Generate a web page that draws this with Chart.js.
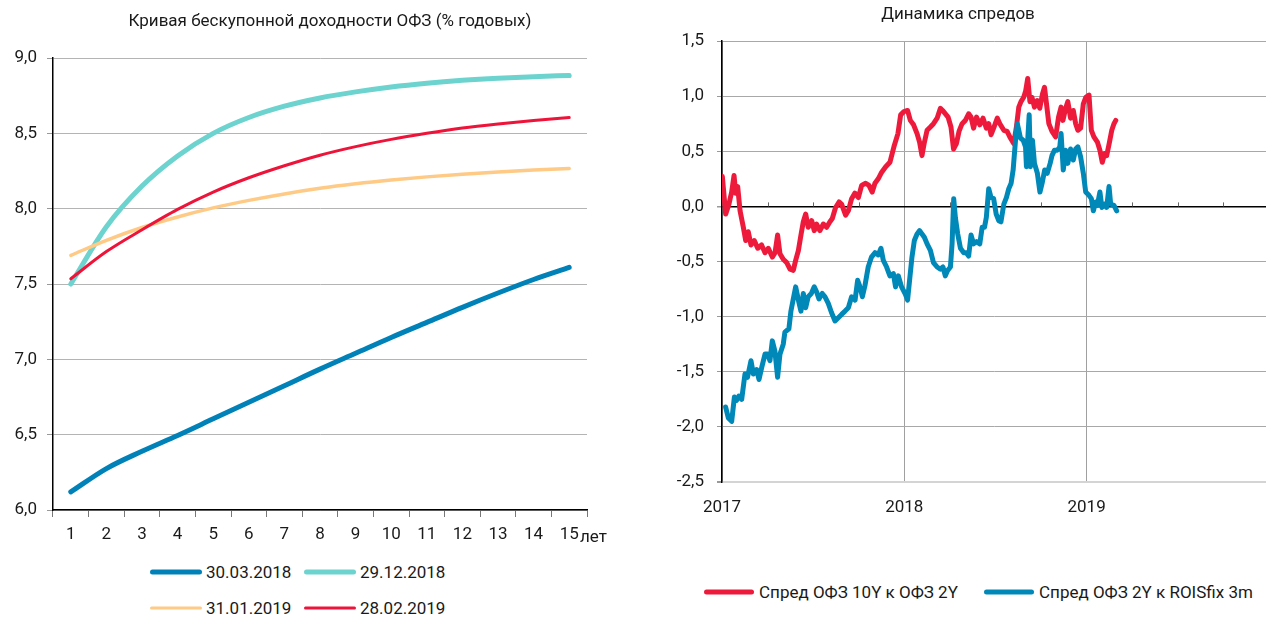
<!DOCTYPE html>
<html lang="ru">
<head>
  <meta charset="UTF-8" />
  <title>Кривая ОФЗ и динамика спредов</title>
  <script src="https://cdn.jsdelivr.net/npm/chart.js"></script>
  <style>
    body { margin: 0; background: #fff; font-family: Roboto, sans-serif; color: #1a1a1a; }
    .wrap { position: relative; width: 1267px; height: 619px; overflow: hidden; }
    canvas { position: absolute; top: 0; }
    .title { position: absolute; font-size: 17px; white-space: nowrap; transform: translate(-50%, -50%); }
    .lg { position: absolute; font-size: 17px; white-space: nowrap; transform: translateY(-50%); }
    .ln { position: absolute; border-radius: 3px; transform: translateY(-50%); }
  </style>
</head>
<body>
  <div class="wrap">
    <canvas id="curve" width="620" height="560" style="left:0"></canvas>
    <canvas id="spread" width="627" height="540" style="left:640px"></canvas>

    <div class="title" style="left:330px; top:20px">Кривая бескупонной доходности ОФЗ (% годовых)</div>
    <div class="title" style="left:958px; top:13px">Динамика спредов</div>
    <div class="lg" style="left:580px; top:536px">лет</div>

    <!-- легенда слева -->
    <div class="ln" style="left:150px; top:572px; width:52px; height:5px; background:#0082b8"></div>
    <div class="lg" style="left:206px; top:572px">30.03.2018</div>
    <div class="ln" style="left:304px; top:572px; width:52px; height:5px; background:#6dd3cf"></div>
    <div class="lg" style="left:360px; top:572px">29.12.2018</div>
    <div class="ln" style="left:150px; top:608px; width:52px; height:3px; background:#ffca85"></div>
    <div class="lg" style="left:206px; top:608px">31.01.2019</div>
    <div class="ln" style="left:304px; top:608px; width:52px; height:3px; background:#ee1439"></div>
    <div class="lg" style="left:360px; top:608px">28.02.2019</div>

    <!-- легенда справа -->
    <div class="ln" style="left:704px; top:592px; width:50px; height:5px; background:#ee1a3c"></div>
    <div class="lg" style="left:759px; top:592px">Спред ОФЗ 10Y к ОФЗ 2Y</div>
    <div class="ln" style="left:984px; top:592px; width:50px; height:5px; background:#0088b9"></div>
    <div class="lg" style="left:1039px; top:592px">Спред ОФЗ 2Y к ROISfix 3m</div>
  </div>

  <script>
    // кривая ОФЗ, сроки в годах
    const terms = [1, 2, 3, 4, 5, 6, 7, 8, 9, 10, 11, 12, 13, 14, 15];
    const y30032018 = [6.12, 6.275, 6.39, 6.495, 6.605, 6.715, 6.825, 6.935, 7.04, 7.145, 7.245, 7.345, 7.44, 7.53, 7.61];
    const y29122018 = [7.50, 7.88, 8.15, 8.35, 8.50, 8.605, 8.68, 8.735, 8.775, 8.808, 8.833, 8.852, 8.866, 8.876, 8.884];
    const y31012019 = [7.69, 7.79, 7.875, 7.945, 8.005, 8.055, 8.098, 8.135, 8.165, 8.19, 8.211, 8.229, 8.244, 8.256, 8.266];
    const y28022019 = [7.535, 7.715, 7.86, 7.995, 8.11, 8.205, 8.285, 8.355, 8.412, 8.46, 8.50, 8.535, 8.562, 8.585, 8.605];
    const curveTicks = [6.0, 6.5, 7.0, 7.5, 8.0, 8.5, 9.0];

    // спреды: время в годах от начала 2017
    const redT = [0.002, 0.02, 0.038, 0.053, 0.066, 0.075, 0.086, 0.099, 0.117, 0.130, 0.144, 0.159, 0.177, 0.196, 0.217, 0.236,
      0.254, 0.276, 0.291, 0.305, 0.318, 0.336, 0.355, 0.373, 0.391, 0.404, 0.419, 0.433, 0.446, 0.459, 0.473, 0.492,
      0.506, 0.519, 0.537, 0.556, 0.574, 0.592, 0.605, 0.623, 0.642, 0.656, 0.678, 0.693, 0.711, 0.729, 0.748, 0.766,
      0.788, 0.806, 0.824, 0.839, 0.857, 0.876, 0.898, 0.921, 0.943, 0.965, 0.98, 0.998, 1.018, 1.033, 1.051, 1.07,
      1.084, 1.097, 1.11, 1.125, 1.143, 1.16, 1.18, 1.198, 1.21, 1.23, 1.24, 1.256, 1.27, 1.286, 1.30, 1.317, 1.335,
      1.353, 1.366, 1.38, 1.396, 1.414, 1.432, 1.45, 1.463, 1.476, 1.49, 1.51, 1.524, 1.546, 1.564, 1.582, 1.60, 1.615,
      1.628, 1.64, 1.655, 1.666, 1.677, 1.689, 1.70, 1.714, 1.729, 1.743, 1.758, 1.769, 1.78, 1.793, 1.81, 1.83, 1.846,
      1.86, 1.87, 1.885, 1.897, 1.912, 1.927, 1.94, 1.952, 1.967, 1.982, 1.996, 2.013, 2.026, 2.04, 2.06, 2.073, 2.086,
      2.099, 2.11, 2.125, 2.138, 2.15, 2.16];
    const redV = [0.27, -0.07, 0.02, 0.13, 0.28, 0.12, 0.18, -0.04, -0.19, -0.31, -0.23, -0.35, -0.31, -0.38, -0.35, -0.42,
      -0.38, -0.46, -0.42, -0.26, -0.43, -0.48, -0.51, -0.57, -0.58, -0.49, -0.40, -0.26, -0.14, -0.07, -0.19, -0.13,
      -0.22, -0.16, -0.22, -0.16, -0.19, -0.14, -0.11, -0.01, 0.04, 0.02, -0.08, -0.04, 0.07, 0.12, 0.08, 0.19,
      0.21, 0.19, 0.13, 0.21, 0.25, 0.31, 0.36, 0.40, 0.54, 0.66, 0.83, 0.86, 0.87, 0.78, 0.74, 0.66,
      0.58, 0.46, 0.58, 0.69, 0.72, 0.75, 0.80, 0.89, 0.87, 0.83, 0.81, 0.72, 0.52, 0.57, 0.68, 0.75, 0.78,
      0.84, 0.81, 0.71, 0.81, 0.74, 0.80, 0.71, 0.75, 0.65, 0.71, 0.80, 0.75, 0.69, 0.68, 0.62, 0.57, 0.72,
      0.90, 0.95, 0.99, 1.05, 1.16, 0.95, 0.99, 0.90, 0.96, 0.89, 1.02, 1.08, 0.93, 0.75, 0.68, 0.63, 0.81,
      0.90, 0.78, 0.89, 0.95, 0.80, 0.87, 0.75, 0.69, 0.71, 0.93, 0.99, 1.01, 0.69, 0.63, 0.58, 0.51, 0.40,
      0.48, 0.46, 0.58, 0.69, 0.75, 0.78];
    const blueT = [0.02, 0.035, 0.053, 0.068, 0.08, 0.093, 0.108, 0.126, 0.14, 0.159, 0.172, 0.19, 0.203, 0.218, 0.236, 0.25,
      0.263, 0.276, 0.29, 0.305, 0.318, 0.336, 0.345, 0.367, 0.378, 0.39, 0.404, 0.419, 0.433, 0.446, 0.459, 0.473,
      0.49, 0.506, 0.52, 0.532, 0.55, 0.565, 0.583, 0.60, 0.62, 0.638, 0.656, 0.675, 0.693, 0.711, 0.73, 0.744,
      0.757, 0.77, 0.784, 0.802, 0.82, 0.839, 0.857, 0.872, 0.885, 0.903, 0.921, 0.94, 0.952, 0.967, 0.985, 1.004,
      1.018, 1.029, 1.042, 1.055, 1.07, 1.084, 1.097, 1.11, 1.125, 1.143, 1.16, 1.18, 1.198, 1.212, 1.225, 1.238,
      1.253, 1.262, 1.271, 1.28, 1.293, 1.308, 1.326, 1.34, 1.353, 1.366, 1.38, 1.396, 1.414, 1.427, 1.44, 1.45,
      1.463, 1.476, 1.49, 1.504, 1.518, 1.53, 1.546, 1.56, 1.573, 1.586, 1.597, 1.61, 1.62, 1.628, 1.637, 1.652,
      1.665, 1.67, 1.678, 1.685, 1.692, 1.703, 1.714, 1.73, 1.744, 1.756, 1.77, 1.784, 1.80, 1.81, 1.824, 1.84,
      1.853, 1.86, 1.872, 1.885, 1.897, 1.912, 1.927, 1.94, 1.952, 1.967, 1.982, 1.995, 2.013, 2.026, 2.037, 2.05,
      2.059, 2.073, 2.084, 2.099, 2.11, 2.123, 2.132, 2.15, 2.165];
    const blueV = [-1.82, -1.92, -1.95, -1.73, -1.76, -1.72, -1.75, -1.52, -1.55, -1.40, -1.52, -1.48, -1.57, -1.46, -1.34, -1.34,
      -1.40, -1.22, -1.31, -1.55, -1.34, -1.25, -1.14, -1.11, -0.95, -0.85, -0.73, -0.85, -0.95, -0.79, -0.92, -0.82,
      -0.79, -0.73, -0.78, -0.84, -0.79, -0.82, -0.88, -0.96, -1.04, -1.01, -0.98, -0.95, -0.92, -0.82, -0.85, -0.67,
      -0.73, -0.82, -0.72, -0.55, -0.46, -0.42, -0.44, -0.38, -0.49, -0.55, -0.63, -0.61, -0.73, -0.63, -0.73, -0.79,
      -0.85, -0.67, -0.46, -0.31, -0.25, -0.22, -0.25, -0.28, -0.34, -0.40, -0.51, -0.55, -0.57, -0.55, -0.63, -0.58,
      -0.55, -0.34, 0.07, -0.10, -0.25, -0.38, -0.42, -0.42, -0.45, -0.26, -0.34, -0.32, -0.34, -0.19, -0.19, -0.10,
      0.16, 0.08, 0.07, -0.07, -0.13, -0.14, 0.02, 0.08, 0.16, 0.21, 0.33, 0.60, 0.75, 0.69, 0.62, 0.60,
      0.54, 0.36, 0.63, 0.83, 0.36, 0.60, 0.39, 0.30, 0.13, 0.21, 0.33, 0.30, 0.39, 0.46, 0.51, 0.51,
      0.54, 0.66, 0.33, 0.51, 0.39, 0.52, 0.42, 0.52, 0.54, 0.45, 0.30, 0.13, 0.10, 0.07, -0.04, 0.04,
      0.01, 0.13, -0.01, 0.02, -0.01, 0.18, 0.02, 0.01, -0.04];
    const startYear = 2017;
    const yearTicks = [2017, 2018, 2019];
    const quarterTicks = [2017.25, 2017.5, 2017.75, 2018.25, 2018.5, 2018.75, 2019.25, 2019.5, 2019.75];
    const spreadTicks = [-2.5, -2.0, -1.5, -1.0, -0.5, 0.0, 0.5, 1.0, 1.5];

    Chart.defaults.font.family = 'Roboto, sans-serif';
    Chart.defaults.font.size = 17;
    Chart.defaults.color = '#1a1a1a';

    const comma = v => v.toFixed(1).replace('.', ',');

    function line(label, data, color, width) {
      return {
        label: label, data: data, borderColor: color, backgroundColor: color,
        borderWidth: width, pointRadius: 0, fill: false,
        cubicInterpolationMode: 'monotone',
        borderCapStyle: 'round', borderJoinStyle: 'round'
      };
    }

    new Chart(document.getElementById('curve'), {
      type: 'line',
      data: {
        labels: terms,
        datasets: [
          line('28.02.2019', y28022019, '#ee1439', 3),
          line('31.01.2019', y31012019, '#ffca85', 3.5),
          line('29.12.2018', y29122018, '#6dd3cf', 5),
          line('30.03.2018', y30032018, '#0082b8', 5)
        ]
      },
      options: {
        responsive: false,
        animation: false,
        layout: { padding: { top: 58, right: 33, left: 0, bottom: 0 } },
        plugins: { legend: { display: false }, tooltip: { enabled: false } },
        scales: {
          x: {
            offset: true,
            grid: { drawOnChartArea: false, offset: true, tickLength: 7, tickColor: '#777' },
            border: { color: '#000', width: 1.5 },
            ticks: { padding: 8, maxRotation: 0 },
            afterFit: s => { s.height = 50; }
          },
          y: {
            min: 6, max: 9,
            afterBuildTicks: s => { s.ticks = curveTicks.map(v => ({ value: v })); },
            grid: { color: '#b4b4b4', tickLength: 6, tickColor: '#999' },
            border: { color: '#000', width: 1.5 },
            ticks: { padding: 10, callback: v => comma(v) },
            afterFit: s => { s.width = 53; }
          }
        }
      }
    });

    // засечки по кварталам на нулевой линии
    const quarterMarks = {
      id: 'quarterMarks',
      afterDatasetsDraw(chart) {
        const ctx = chart.ctx, x = chart.scales.x, y0 = chart.scales.y.getPixelForValue(0);
        ctx.save();
        ctx.strokeStyle = '#666';
        ctx.lineWidth = 1;
        quarterTicks.forEach(q => {
          const px = Math.round(x.getPixelForValue(q)) + 0.5;
          ctx.beginPath();
          ctx.moveTo(px, y0 - 4);
          ctx.lineTo(px, y0);
          ctx.stroke();
        });
        ctx.restore();
      }
    };

    const toPts = (ts, vs) => ts.map((t, i) => ({ x: startYear + t, y: vs[i] }));

    new Chart(document.getElementById('spread'), {
      type: 'line',
      data: {
        datasets: [
          Object.assign(line('Спред ОФЗ 2Y к ROISfix 3m', toPts(blueT, blueV), '#0088b9', 5), { cubicInterpolationMode: 'default', tension: 0, order: 0 }),
          Object.assign(line('Спред ОФЗ 10Y к ОФЗ 2Y', toPts(redT, redV), '#ee1a3c', 5), { cubicInterpolationMode: 'default', tension: 0, order: 1 })
        ]
      },
      options: {
        responsive: false,
        animation: false,
        parsing: false,
        layout: { padding: { top: 41, right: 1, left: 0, bottom: 0 } },
        plugins: { legend: { display: false }, tooltip: { enabled: false } },
        scales: {
          x: {
            type: 'linear',
            min: 2017, max: 2019.984,
            afterBuildTicks: s => { s.ticks = yearTicks.map(v => ({ value: v })); },
            grid: { color: '#a0a0a0', drawTicks: false },
            border: { display: false },
            ticks: { padding: 16, callback: v => String(v) },
            afterFit: s => { s.height = 58; }
          },
          y: {
            min: -2.5, max: 1.5,
            afterBuildTicks: s => { s.ticks = spreadTicks.map(v => ({ value: v })); },
            grid: {
              color: c => c.tick.value === 0 ? '#000' : (c.tick.value === -2.5 ? '#d4d4d4' : '#a8a8a8'),
              lineWidth: c => c.tick.value === 0 ? 1.5 : (c.tick.value === -2.5 ? 2 : 1),
              tickLength: 5, tickColor: '#999'
            },
            border: { color: '#000', width: 1.5 },
            ticks: { padding: 13, callback: v => comma(v) },
            afterFit: s => { s.width = 82; }
          }
        }
      },
      plugins: [quarterMarks]
    });
  </script>
</body>
</html>
